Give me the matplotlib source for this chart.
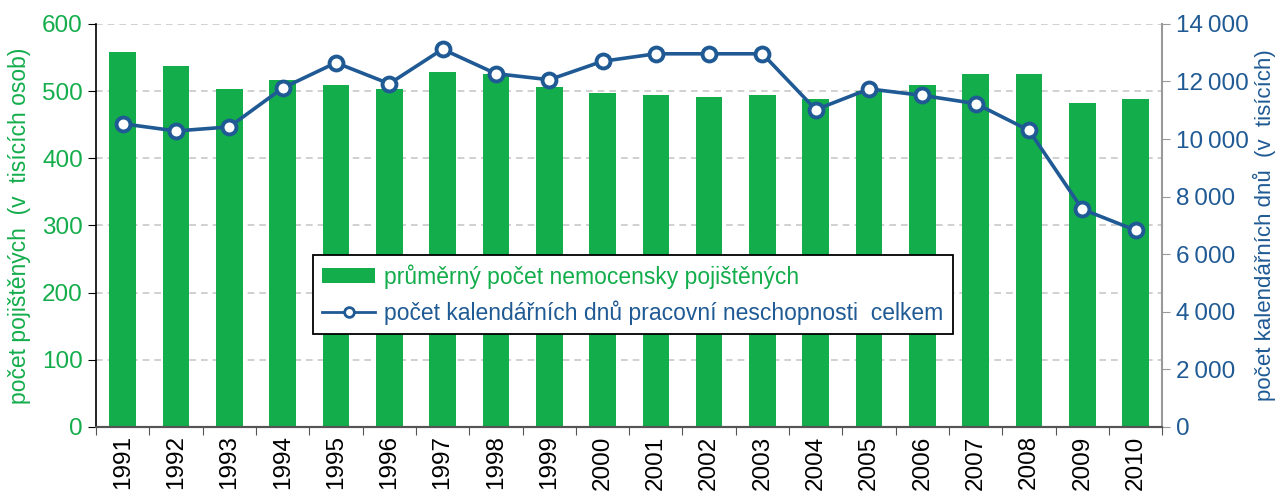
import matplotlib.pyplot as plt
import numpy as np
from matplotlib.ticker import FuncFormatter

plt.rcParams['font.family'] = ['Liberation Sans', 'DejaVu Sans']

years = [str(y) for y in range(1991, 2011)]
insured = [558, 537, 503, 516, 509, 503, 528, 525, 506, 497,
           494, 491, 494, 488, 500, 509, 525, 525, 482, 488]
sick_days = [10530, 10280, 10420, 11770, 12650, 11920, 13120, 12270, 12060, 12700,
             12960, 12960, 12960, 11020, 11740, 11515, 11230, 10300, 7560, 6830]

green = '#13AD4B'
blue = '#1F5A94'

fig = plt.figure(figsize=(12.77, 4.97), dpi=100)
ax = fig.add_axes([0.0752, 0.141, 0.835, 0.811])
ax2 = ax.twinx()

x = np.arange(len(years))
bars = ax.bar(x, insured, width=0.5, color=green, zorder=2,
              label='průměrný počet nemocensky pojištěných')
line, = ax2.plot(x, sick_days, color=blue, linewidth=2.6, marker='o',
                 markersize=10, markerfacecolor='white', markeredgecolor=blue,
                 markeredgewidth=2.8, zorder=3,
                 label='počet kalendářních dnů pracovní neschopnosti  celkem')

ax.set_xlim(-0.5, len(years) - 0.5)
ax.set_ylim(0, 600)
ax2.set_ylim(0, 14000)
ax.set_yticks(range(0, 601, 100))
ax2.set_yticks(range(0, 14001, 2000))
ax2.yaxis.set_major_formatter(FuncFormatter(
    lambda v, p: f'{int(v):,}'.replace(',', '\u2009') if v >= 1000 else f'{int(v)}'))

ax.set_axisbelow(True)
ax.yaxis.grid(True, color='#C8C8C8', linestyle=(0, (4, 3)), linewidth=1.2)

# x ticks between categories, labels at centres
ax.set_xticks(np.arange(-0.5, len(years), 1))
ax.set_xticks(x, minor=True)
ax.set_xticklabels([''] * (len(years) + 1))
ax.set_xticklabels(years, minor=True, rotation=90, fontsize=17.5)
ax.tick_params(axis='x', which='major', length=6, color='#555555', direction='out')
ax.tick_params(axis='x', which='minor', length=0, pad=6)

ax.tick_params(axis='y', colors=green, labelsize=17.5, length=6)
ax.tick_params(axis='y', color='black')
ax2.tick_params(axis='y', colors=blue, labelsize=17.5, length=6)
ax2.tick_params(axis='y', color='#999999')

for a in (ax, ax2):
    a.spines['top'].set_visible(False)
ax.spines['left'].set_color('black')
ax.spines['left'].set_linewidth(1.2)
ax2.spines['left'].set_visible(False)
ax.spines['right'].set_visible(False)
ax2.spines['right'].set_color('#999999')
ax2.spines['right'].set_linewidth(1.5)
ax2.spines['bottom'].set_color('#555555')
ax2.spines['bottom'].set_linewidth(1.5)
ax.spines['bottom'].set_color('#555555')
ax.spines['bottom'].set_linewidth(1.5)

ax.set_ylabel('počet pojištěných  (v  tisících osob)', color=green, fontsize=16.5, labelpad=8)
ax2.set_ylabel('počet kalendářních dnů  (v  tisících)', color=blue, fontsize=16, labelpad=3)

leg = ax2.legend([bars, line], [bars.get_label(), line.get_label()],
                 loc='upper left', bbox_to_anchor=(0.2036, 0.4268), borderaxespad=0,
                 fontsize=16.5, frameon=True, fancybox=False, edgecolor='black',
                 framealpha=1, handlelength=2.3, handleheight=0.6, borderpad=0.4,
                 labelspacing=0.5, handletextpad=0.4)
leg.get_frame().set_linewidth(1.3)
for txt, col in zip(leg.get_texts(), [green, blue]):
    txt.set_color(col)
lh = leg.legend_handles[1]
lh.set_markersize(7)
lh.set_markeredgewidth(2)
lh.set_linewidth(2)

fig.savefig('out.png', dpi=100)
